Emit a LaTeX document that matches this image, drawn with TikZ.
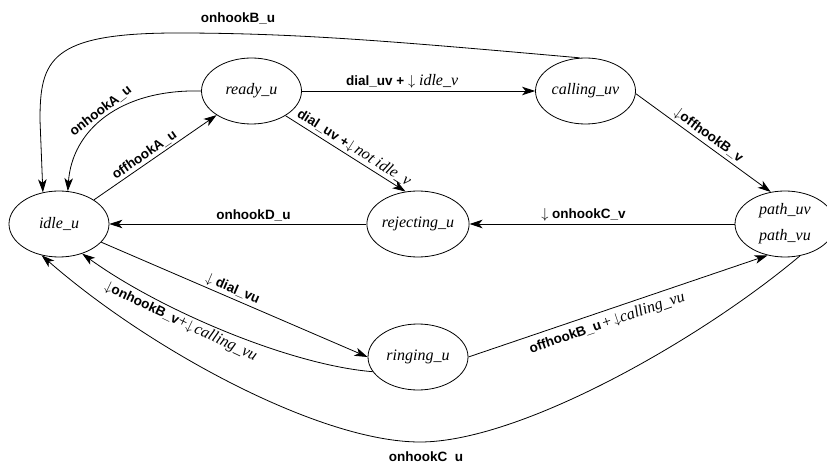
\documentclass[tikz,border=0pt]{standalone}
\usepackage{fontspec}
\setmainfont{Liberation Serif}
\setsansfont{Liberation Sans}
\usetikzlibrary{shapes.geometric,arrows.meta}
\newcommand\dn{$\downarrow$}
\newcommand\vi[1]{{\rmfamily\mdseries\itshape\fontsize{16}{18}\selectfont #1}}
\newcommand\pl{{\rmfamily\mdseries\fontsize{16}{18}\selectfont +}}
\begin{document}
\begin{tikzpicture}[x=1pt,y=-1pt,
  state/.style={ellipse, draw, line width=0.8pt, minimum width=100pt, minimum height=66pt, inner sep=0pt, font=\fontsize{16}{26}\selectfont\itshape, align=center},
  lab/.style={font=\fontsize{13.5}{16}\selectfont\sffamily\bfseries, inner sep=2pt},
  edge/.style={line width=0.8pt, -{Stealth[length=13pt,width=8.5pt,inset=3.5pt]}}]
\clip (0,0) rectangle (827,462);
\node[state] (idle) at (59,224) {idle\_u};
\node[state] (ready) at (251.5,91) {ready\_u};
\node[state] (calling) at (585.5,91) {calling\_uv};
\node[state] (rejecting) at (418,224) {rejecting\_u};
\node[state] (path) at (785,224) {path\_uv\\path\_vu};
\node[state] (ringing) at (418,357) {ringing\_u};

\draw[edge] (calling.100) .. controls (400,42) and (300,33) .. (177,33) .. controls (50,33) and (40,60) .. (40,120) -- (idle.117);
\node[lab] (lB) at (238,18) {onhookB\_u};

\draw[edge] (ready.180) .. controls (120,89) and (72,130) .. (idle.75) node[lab, sloped, above, pos=0.5] {onhookA\_u};
\draw[edge] (idle) -- (ready) node[lab, sloped, above, pos=0.45] {offhookA\_u};
\draw[edge] (ready) -- (calling) node[lab, above, pos=0.43] {dial\_uv + \dn\ \vi{idle\_v}};
\draw[edge] (ready.-36) -- (rejecting.111) node[lab, sloped, above, pos=0.53] {dial\_uv +\dn\,\vi{not idle\_v}};
\draw[edge] (calling.-3) -- (path.114) node[lab, sloped, above, pos=0.5] {\dn offhookB\_v};
\draw[edge] (rejecting) -- (idle) node[lab, above, pos=0.44] {onhookD\_u};
\draw[edge] (path) -- (rejecting) node[lab, above, pos=0.57] {\dn\ onhookC\_v};
\draw[edge] (idle) -- (ringing.west) node[lab, sloped, above, pos=0.48] {\dn\ dial\_vu};
\draw[edge] (ringing.198) .. controls (290,365) and (160,310) .. (idle.-52) node[lab, sloped, below, pos=0.63] {\dn onhookB\_v\pl\dn\,\vi{calling\_vu}};
\draw[edge] (ringing.east) -- (path.241) node[lab, sloped, below=3pt, pos=0.45] {offhookB\_u\,\pl\,\dn\vi{calling\_vu}};
\draw[edge] (path.-65) .. controls (700,340) and (520,442) .. (420,442) .. controls (320,442) and (150,350) .. (idle.241);
\node[lab] (lC) at (426,457) {onhookC\_u};
\end{tikzpicture}
\end{document}
